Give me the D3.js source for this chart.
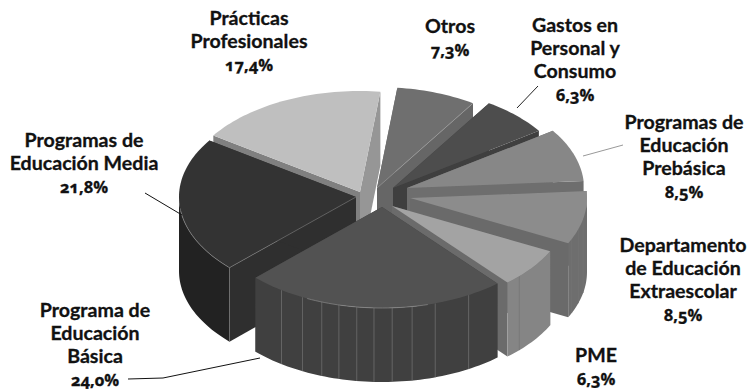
<!DOCTYPE html>
<html><head><meta charset="utf-8">
<script src="https://cdn.jsdelivr.net/npm/d3@7"></script>
<style>html,body{margin:0;background:#fff}svg{display:block}
text{font-family:Lato,"Noto Sans",sans-serif;font-weight:700;font-size:19.6px;fill:#111;stroke:#111;stroke-width:.3;text-anchor:middle}
.pct{font-family:"Open Sans",Lato,sans-serif;font-size:16.5px;font-variant-numeric:oldstyle-nums;font-feature-settings:"onum"}</style>
</head><body><div id="c"></div>
<script>
const categories = ["Otros","Gastos en Personal y Consumo","Programas de Educación Prebásica","Departamento de Educación Extraescolar","PME","Programa de Educación Básica","Programas de Educación Media","Prácticas Profesionales"];
const values = [7.3,6.3,8.5,8.5,6.3,24.0,21.8,17.4];
const labelLines = [["Otros"],["Gastos en","Personal y","Consumo"],["Programas de","Educación","Prebásica"],["Departamento","de Educación","Extraescolar"],["PME"],["Programa de","Educación","Básica"],["Programas de","Educación Media"],["Prácticas","Profesionales"]];

const W=750,H=390,RX=177,RY=101,DEPTH=74,START=6.6*Math.PI/180;
const rad=d=>d*Math.PI/180;
// slice apex on the canvas, style and label position (presentation only)
const layout=[
 {ax:377,ay:188,top:"#6f6f6f",s:"#6a6a6a",e:"#666666",wall:"#666",lx:450,ly:33,endEdge:"#9a9a9a"},
 {ax:393,ay:188,top:"#4d4d4d",s:"#3f3f3f",e:"#3f3f3f",wall:"#444",lx:575,ly:32},
 {ax:407,ay:188,top:"#878787",s:"#6e6e6e",e:"#6e6e6e",wall:"#777",lx:684,ly:129},
 {ax:410,ay:198,top:"#8c8c8c",s:"#6a6a6a",e:"#6a6a6a",wall:"#6e6e6e",lx:683,ly:252,seams:[102,108,114]},
 {ax:392,ay:206,top:"#a3a3a3",s:"#6b6b6b",e:"#6b6b6b",wall:"#858585",lx:596,ly:362,seams:[134]},
 {ax:382,ay:207,top:"#525252",s:"#3f3f3f",e:"#3f3f3f",wall:"#404040",lx:95,ly:317,seams:[150.7,162.5,170.2,176.7,182.6,188.2,194.1,199.9,206.7,214.6],rimEdge:[165,205]},
 {ax:356,ay:197,top:"#333333",s:"#2f2f2f",e:"#2f2f2f",wall:"#222222",lx:84,ly:147,startEdge:"#777",rimEdge:[226,262]},
 {ax:360,ay:192,top:"#bfbfbf",s:"#808080",e:"#969696",wall:"#999",lx:249,ly:25}
];
const order=[7,0,1,2,3,6,4,5];
const leaders=[
 {i:1,pts:[[517,108],[538,86]],c:"#222"},
 {i:2,pts:[[583,156],[623,145]],c:"#999"},
 {i:5,pts:[[128,379],[163,378],[260,358]],c:"#111"},
 {i:6,pts:[[145,193],[182,215]],c:"#111"}
];
const arcs=d3.pie().sort(null).value(d=>d).startAngle(START).endAngle(START+2*Math.PI)(values);
const svg=d3.select("#c").append("svg").attr("width",W).attr("height",H);
const xS=d3.scaleLinear().domain([-1,1]).range([-RX,RX]);
const yS=d3.scaleLinear().domain([-1,1]).range([-RY,RY]);
const pt=(i,a,dz=0)=>[layout[i].ax+xS(Math.sin(a)),layout[i].ay+yS(-Math.cos(a))+dz];
const line=d3.line();
function rim(i,a0,a1,dz){const n=Math.max(2,Math.ceil((a1-a0)/rad(1.5)));return d3.range(n+1).map(k=>pt(i,a0+(a1-a0)*k/n,dz));}
const thin=(g,pts,c)=>g.append("path").attr("d",line(pts)).attr("stroke",c).attr("stroke-width",.7).attr("fill","none");
order.forEach(i=>{
 const L=layout[i],a=arcs[i],g=svg.append("g");
 const apex=[L.ax,L.ay],apexB=[L.ax,L.ay+DEPTH];
 g.append("path").attr("d",line([apex,pt(i,a.startAngle),pt(i,a.startAngle,DEPTH),apexB])+"Z").attr("fill",L.s);
 g.append("path").attr("d",line([apex,pt(i,a.endAngle),pt(i,a.endAngle,DEPTH),apexB])+"Z").attr("fill",L.e);
 // outer wall: only the front half of the rim
 const a0=Math.max(a.startAngle,Math.PI/2),a1=Math.min(a.endAngle,3*Math.PI/2);
 if(a1>a0){
  const top=rim(i,a0,a1,0),bot=rim(i,a0,a1,DEPTH).reverse();
  g.append("path").attr("d",line(top.concat(bot))+"Z").attr("fill",L.wall);
  (L.seams||[]).forEach(d=>{const t=rad(d);thin(g,[pt(i,t),pt(i,t,DEPTH)],"#747474");});
 }
 const t=rim(i,a.startAngle,a.endAngle,0);
 g.append("path").attr("d",line([apex].concat(t))+"Z").attr("fill",L.top);
 if(L.startEdge){thin(g,[apex,pt(i,a.startAngle)],L.startEdge);thin(g,[pt(i,a.startAngle),pt(i,a.startAngle,DEPTH)],L.startEdge);}
 if(L.endEdge)thin(g,[apex,pt(i,a.endAngle)],L.endEdge);
 if(L.rimEdge)thin(g,rim(i,rad(L.rimEdge[0]),rad(L.rimEdge[1]),0),"#8a8a8a");
});
leaders.forEach(l=>svg.append("path").attr("d",line(l.pts)).attr("fill","none").attr("stroke",l.c).attr("stroke-width",1));
const fmt=v=>v.toFixed(1).replace(".",",")+"%";
labelLines.forEach((ls,i)=>{
 const t=svg.append("text").attr("x",layout[i].lx).attr("y",layout[i].ly);
 ls.forEach((s,k)=>t.append("tspan").attr("x",layout[i].lx).attr("dy",k?23:0).text(s));
 t.append("tspan").attr("class","pct").attr("x",layout[i].lx).attr("dy",23).text(fmt(values[i]));
});
</script></body></html>
